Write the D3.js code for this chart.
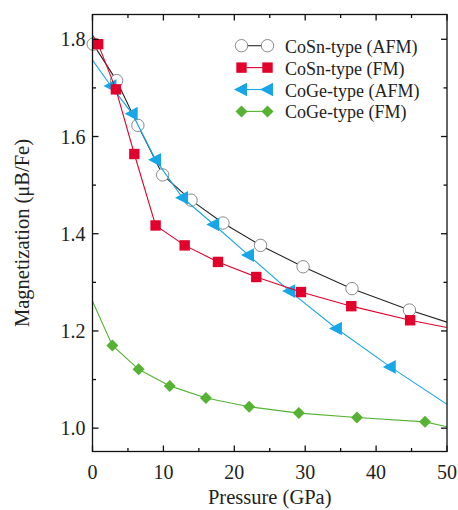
<!DOCTYPE html>
<html>
<head>
<meta charset="utf-8">
<script src="https://cdn.jsdelivr.net/npm/d3@7"></script>
<style>
  html, body { margin: 0; padding: 0; background: #fff; }
</style>
</head>
<body>
<svg id="chart" width="458" height="510" font-family="'Liberation Serif', 'Times New Roman', Times, 'DejaVu Serif', serif"></svg>
<script>
// Magnetization per Fe atom versus pressure for four structural/magnetic models.
const seriesNames = ["CoSn-type (AFM)", "CoSn-type (FM)", "CoGe-type (AFM)", "CoGe-type (FM)"];

// CoSn-type, antiferromagnetic
const cosnAfmP = [0.1, 3.4, 6.4, 9.9, 13.9, 18.4, 23.7, 29.7, 36.6, 44.7];
const cosnAfmM = [1.790, 1.715, 1.623, 1.521, 1.469, 1.422, 1.376, 1.332, 1.287, 1.243];
const cosnAfmEnds = [null, 1.218];   // curve value at 0 and 50 GPa

// CoSn-type, ferromagnetic
const cosnFmP = [0.8, 3.3, 5.9, 8.9, 13.0, 17.7, 23.1, 29.4, 36.5, 44.8];
const cosnFmM = [1.790, 1.697, 1.564, 1.417, 1.376, 1.342, 1.311, 1.280, 1.251, 1.222];
const cosnFmEnds = [1.809, 1.207];

// CoGe-type, antiferromagnetic
const cogeAfmP = [2.6, 5.6, 8.9, 12.7, 17.1, 22.0, 27.8, 34.4, 42.0];
const cogeAfmM = [1.704, 1.647, 1.552, 1.474, 1.419, 1.356, 1.282, 1.205, 1.126];
const cogeAfmEnds = [1.757, 1.049];

// CoGe-type, ferromagnetic
const cogeFmP = [2.8, 6.5, 10.9, 16.0, 22.1, 29.1, 37.3, 46.9];
const cogeFmM = [1.170, 1.121, 1.087, 1.062, 1.044, 1.031, 1.022, 1.013];
const cogeFmEnds = [1.261, 1.003];

// Axis ticks
const xTicks = [0, 10, 20, 30, 40, 50];
const xMinorTicks = [5, 15, 25, 35, 45];
const yTicks = [1.0, 1.2, 1.4, 1.6, 1.8];
const yMinorTicks = [1.1, 1.3, 1.5, 1.7];
const xDomain = [0, 50];
const yDomain = [0.952, 1.851];

const margin = { left: 92.5, right: 11, top: 14.5, bottom: 58.5 };
const W = 458, H = 510;
const svg = d3.select("#chart");
const FONT = "'Liberation Serif', 'Times New Roman', Times, 'DejaVu Serif', serif";

const x = d3.scaleLinear().domain(xDomain).range([margin.left, W - margin.right]);
const y = d3.scaleLinear().domain(yDomain).range([H - margin.bottom, margin.top]);

const colors = { black: "#262626", red: "#e2002c", blue: "#17a6e6", green: "#55b232" };

function build(P, M, ends) {
  const pts = P.map((p, i) => ({ p, m: M[i] }));
  const line = pts.slice();
  if (ends[0] !== null) line.unshift({ p: xDomain[0], m: ends[0] });
  if (ends[1] !== null) line.push({ p: xDomain[1], m: ends[1] });
  return { pts, line };
}

const series = [
  { name: seriesNames[0], ...build(cosnAfmP, cosnAfmM, cosnAfmEnds), color: colors.black, marker: "circle" },
  { name: seriesNames[2], ...build(cogeAfmP, cogeAfmM, cogeAfmEnds), color: colors.blue, marker: "triangle" },
  { name: seriesNames[1], ...build(cosnFmP, cosnFmM, cosnFmEnds), color: colors.red, marker: "square" },
  { name: seriesNames[3], ...build(cogeFmP, cogeFmM, cogeFmEnds), color: colors.green, marker: "diamond" }
];

svg.append("defs").append("clipPath").attr("id", "plotClip")
  .append("rect")
  .attr("x", x(xDomain[0])).attr("y", y(yDomain[1]))
  .attr("width", x(xDomain[1]) - x(xDomain[0]))
  .attr("height", y(yDomain[0]) - y(yDomain[1]));

function drawMarker(g, type, color, cx, cy) {
  if (type === "circle") {
    g.append("circle").attr("cx", cx).attr("cy", cy).attr("r", 6.2)
      .attr("fill", "#fff").attr("stroke", "#8a8a8a").attr("stroke-width", 1);
  } else if (type === "square") {
    g.append("rect").attr("x", cx - 5.2).attr("y", cy - 5.2).attr("width", 10.4).attr("height", 10.4)
      .attr("fill", color);
  } else if (type === "triangle") {
    g.append("path").attr("d", `M${cx - 7.5},${cy}L${cx + 5.5},${cy - 6.8}L${cx + 5.5},${cy + 6.8}Z`)
      .attr("fill", color);
  } else if (type === "diamond") {
    g.append("path").attr("d", `M${cx},${cy - 6}L${cx + 6},${cy}L${cx},${cy + 6}L${cx - 6},${cy}Z`)
      .attr("fill", color);
  }
}

const lineGen = d3.line().x(d => x(d.p)).y(d => y(d.m)).curve(d3.curveLinear);

series.forEach(s => {
  const g = svg.append("g");
  g.append("path").datum(s.line)
    .attr("clip-path", "url(#plotClip)")
    .attr("d", lineGen)
    .attr("fill", "none")
    .attr("stroke", s.color)
    .attr("stroke-width", 1.1);
  s.pts.forEach(d => drawMarker(g, s.marker, s.color, x(d.p), y(d.m)));
});

// Frame with inward ticks on all four sides
const axisG = svg.append("g").attr("stroke", "#111").attr("stroke-width", 1.3);
const x0 = x(xDomain[0]), x1 = x(xDomain[1]), yb = y(yDomain[0]), yt = y(yDomain[1]);
axisG.append("rect").attr("x", x0).attr("y", yt).attr("width", x1 - x0).attr("height", yb - yt)
  .attr("fill", "none");

function tickLines(vals, len, isX) {
  vals.forEach(v => {
    if (isX) {
      const px = x(v);
      axisG.append("line").attr("x1", px).attr("x2", px).attr("y1", yb).attr("y2", yb - len);
      axisG.append("line").attr("x1", px).attr("x2", px).attr("y1", yt).attr("y2", yt + len);
    } else {
      const py = y(v);
      axisG.append("line").attr("x1", x0).attr("x2", x0 + len).attr("y1", py).attr("y2", py);
      axisG.append("line").attr("x1", x1).attr("x2", x1 - len).attr("y1", py).attr("y2", py);
    }
  });
}
tickLines(xTicks, 6, true);
tickLines(xMinorTicks, 3.5, true);
tickLines(yTicks, 6, false);
tickLines(yMinorTicks, 3.5, false);

// Tick labels
svg.append("g").selectAll("text").data(xTicks).join("text")
  .attr("x", d => x(d)).attr("y", yb + 27)
  .attr("text-anchor", "middle").attr("font-size", 20).attr("font-family", FONT).attr("fill", "#222")
  .text(d => d3.format("d")(d));

svg.append("g").selectAll("text").data(yTicks).join("text")
  .attr("x", x0 - 7).attr("y", d => y(d) + 7)
  .attr("text-anchor", "end").attr("font-size", 20).attr("font-family", FONT).attr("fill", "#222")
  .text(d => d3.format(".1f")(d));

// Axis titles
svg.append("text").attr("x", (x0 + x1) / 2).attr("y", 504)
  .attr("text-anchor", "middle").attr("font-size", 20.5).attr("font-family", FONT).attr("fill", "#222")
  .text("Pressure (GPa)");

svg.append("text")
  .attr("transform", `translate(29, ${(yt + yb) / 2}) rotate(-90)`)
  .attr("text-anchor", "middle").attr("font-size", 20.5).attr("font-family", FONT).attr("fill", "#222")
  .text("Magnetization (\u03BCB/Fe)");

// Legend
const legendOrder = [0, 2, 1, 3];   // indices into series, top to bottom
const leg = svg.append("g");
legendOrder.forEach((si, row) => {
  const s = series[si];
  const ly = 45.7 + row * 21.9;
  leg.append("line").attr("x1", 241.5).attr("x2", 267.5).attr("y1", ly).attr("y2", ly)
    .attr("stroke", s.color).attr("stroke-width", 1.1);
  drawMarker(leg, s.marker, s.color, 241.5, ly);
  drawMarker(leg, s.marker, s.color, 267.5, ly);
  leg.append("text").attr("x", 285).attr("y", ly + 7).attr("font-size", 18)
    .attr("font-family", FONT).attr("fill", "#222").text(s.name);
});
</script>
</body>
</html>
